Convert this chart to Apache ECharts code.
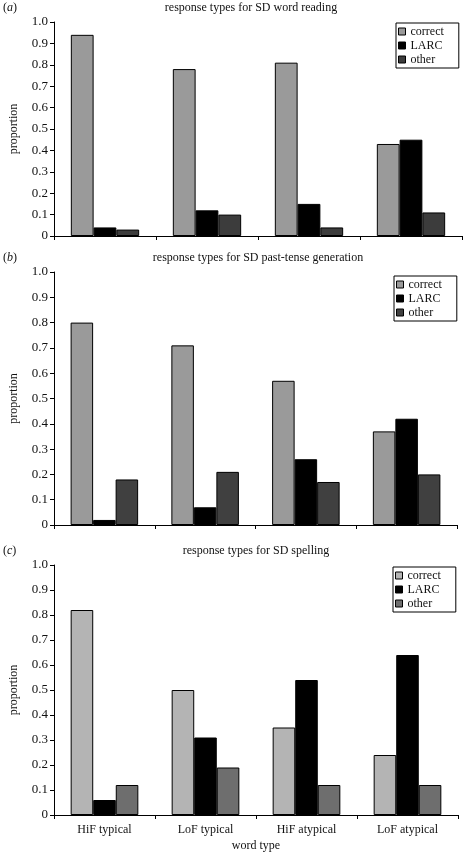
<!DOCTYPE html>
<html>
<head>
<meta charset="utf-8">
<script src="https://cdn.jsdelivr.net/npm/echarts@6/dist/echarts.min.js"></script>
<style>
html,body{margin:0;padding:0;background:#fff;}
#chart{width:463px;height:853px;}
</style>
</head>
<body>
<div id="chart"></div>
<script>
const categories = ['HiF typical', 'LoF typical', 'HiF atypical', 'LoF atypical'];
const seriesNames = ['correct', 'LARC', 'other'];
const yTicks = [0, 0.1, 0.2, 0.3, 0.4, 0.5, 0.6, 0.7, 0.8, 0.9, 1.0];

// (a) word reading
const readingCorrect = [0.94, 0.78, 0.81, 0.43];
const readingLARC    = [0.04, 0.12, 0.15, 0.45];
const readingOther   = [0.03, 0.10, 0.04, 0.11];
// (b) past-tense generation
const pastCorrect = [0.80, 0.71, 0.57, 0.37];
const pastLARC    = [0.02, 0.07, 0.26, 0.42];
const pastOther   = [0.18, 0.21, 0.17, 0.20];
// (c) spelling
const spellCorrect = [0.82, 0.50, 0.35, 0.24];
const spellLARC    = [0.06, 0.31, 0.54, 0.64];
const spellOther   = [0.12, 0.19, 0.12, 0.12];

const panelTitles = ['response types for SD word reading',
                     'response types for SD past-tense generation',
                     'response types for SD spelling'];
const panelLetters = ['a', 'b', 'c'];

const FONT = '"Liberation Serif", "DejaVu Serif", serif';
const TXT = '#111';

const panels = [
  {data: [readingCorrect, readingLARC, readingOther], colors: ['#9a9a9a', '#000000', '#3c3c3c'],
   grid: {left: 44, top: 22, width: 418, height: 214}, titleY: 8, titleX: 251, legend: {left: 396, top: 23}},
  {data: [pastCorrect, pastLARC, pastOther], colors: ['#9a9a9a', '#000000', '#404040'],
   grid: {left: 44, top: 272, width: 413, height: 253}, titleY: 258, titleX: 258, legend: {left: 394, top: 276}},
  {data: [spellCorrect, spellLARC, spellOther], colors: ['#b4b4b4', '#000000', '#6e6e6e'],
   grid: {left: 44, top: 565, width: 414, height: 251}, titleY: 551, titleX: 256, legend: {left: 393, top: 567}}
];

const grids = [], xAxes = [], yAxes = [], series = [], legends = [], graphics = [];
panels.forEach((p, i) => {
  grids.push(Object.assign({containLabel: false}, p.grid));
  const last = i === panels.length - 1;
  xAxes.push({
    type: 'category', gridIndex: i, data: categories,
    axisLine: {lineStyle: {color: '#000', width: 1}},
    axisTick: {show: true, length: 4, interval: 0, lineStyle: {color: '#000'}},
    axisLabel: {show: last, interval: 0, margin: 9, fontFamily: FONT, fontSize: 12, color: TXT},
    name: last ? 'word type' : '', nameLocation: 'middle', nameGap: 25,
    nameTextStyle: {fontFamily: FONT, fontSize: 12, color: TXT}
  });
  yAxes.push({
    type: 'value', gridIndex: i, min: 0, max: 1, interval: 0.1,
    axisLine: {show: true, lineStyle: {color: '#000', width: 1}},
    axisTick: {show: true, length: 4, lineStyle: {color: '#000'}},
    splitLine: {show: false},
    axisLabel: {margin: 6, fontFamily: FONT, fontSize: 13, color: TXT,
      formatter: v => (yTicks.indexOf(Math.round(v * 10) / 10) >= 0 ? (v === 0 ? '0' : v.toFixed(1)) : '')},
    name: 'proportion', nameLocation: 'middle', nameGap: 34, nameRotate: 90,
    nameTextStyle: {fontFamily: FONT, fontSize: 12, color: TXT}
  });
  seriesNames.forEach((n, k) => {
    series.push({
      type: 'bar', name: n, xAxisIndex: i, yAxisIndex: i, data: p.data[k],
      barGap: '0%', barCategoryGap: '33%',
      itemStyle: {color: p.colors[k], borderColor: '#000', borderWidth: 1},
      emphasis: {disabled: true}, animation: false
    });
  });
  legends.push({
    orient: 'vertical', left: p.legend.left, top: p.legend.top,
    itemWidth: 7, itemHeight: 7, itemGap: 1,
    padding: [2, 15, 2, 2],
    borderColor: '#000', borderWidth: 1, backgroundColor: '#fff',
    selectedMode: false,
    textStyle: {fontFamily: FONT, fontSize: 12, color: TXT, lineHeight: 13},
    data: seriesNames.map((n, k) => ({name: n, icon: 'rect',
      itemStyle: {color: p.colors[k], borderColor: '#000', borderWidth: 1}}))
  });
  graphics.push({
    type: 'text', x: 3, y: p.titleY,
    style: {text: '({i|' + panelLetters[i] + '})', verticalAlign: 'middle', align: 'left',
      font: '12px ' + FONT, fill: TXT,
      rich: {i: {fontStyle: 'italic', fontFamily: FONT, fontSize: 12, fill: TXT}}}
  });
  graphics.push({
    type: 'text', x: p.titleX, y: p.titleY,
    style: {text: panelTitles[i], align: 'center', verticalAlign: 'middle',
      font: '12px ' + FONT, fill: TXT}
  });
});

const chart = echarts.init(document.getElementById('chart'), null, {renderer: 'canvas'});
chart.setOption({
  animation: false,
  backgroundColor: '#fff',
  grid: grids, xAxis: xAxes, yAxis: yAxes, series: series, legend: legends,
  graphic: graphics
});
</script>
</body>
</html>
